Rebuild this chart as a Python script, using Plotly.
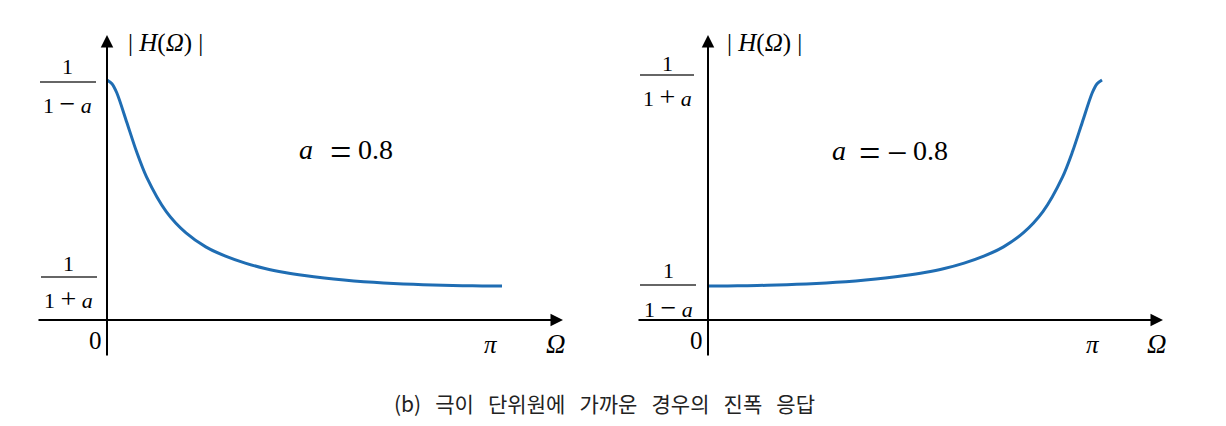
import plotly.graph_objects as go

# Omega in units of pi
omega = [0, 0.0125, 0.025, 0.05, 0.075, 0.10, 0.15, 0.20, 0.25, 0.30, 0.35, 0.40,
         0.45, 0.50, 0.55, 0.60, 0.65, 0.70, 0.75, 0.80, 0.85, 0.90, 0.95, 1.0]
# |H(Omega)| (a = 0.8)
mag_pos = [5.0, 4.92, 4.72, 4.09, 3.45, 2.91, 2.16, 1.70, 1.40, 1.20, 1.05, 0.934,
           0.848, 0.781, 0.727, 0.684, 0.650, 0.623, 0.601, 0.584, 0.571, 0.562, 0.557, 0.556]
# right panel (a = -0.8): its own omega samples and values
omega_neg = [0, 0.05, 0.10, 0.15, 0.20, 0.25, 0.30, 0.35, 0.40, 0.45, 0.50, 0.55, 0.60,
             0.65, 0.70, 0.75, 0.80, 0.85, 0.90, 0.925, 0.95, 0.975, 0.9875, 1.0]
mag_neg = [0.556, 0.557, 0.562, 0.571, 0.584, 0.601, 0.623, 0.650, 0.684, 0.727, 0.781, 0.848,
           0.934, 1.05, 1.20, 1.40, 1.70, 2.16, 2.91, 3.45, 4.09, 4.72, 4.92, 5.0]

caption_words = ["(b)", "극이", "단위원에", "가까운", "경우의", "진폭", "응답"]

W, H = 1226, 426
BLUE = "#1f6db3"
SERIF = '"Liberation Serif", "Times New Roman", "DejaVu Serif", serif'
KFONT = '"Noto Sans CJK KR", sans-serif'

fig = go.Figure()
fig.add_trace(go.Scatter(x=omega, y=mag_pos, mode="lines", xaxis="x", yaxis="y",
                         line=dict(color=BLUE, width=3, shape="spline", smoothing=0.8),
                         hoverinfo="skip", showlegend=False))
fig.add_trace(go.Scatter(x=omega_neg, y=mag_neg, mode="lines", xaxis="x2", yaxis="y2",
                         line=dict(color=BLUE, width=3, shape="spline", smoothing=0.8),
                         hoverinfo="skip", showlegend=False))

ydom = [1 - 357 / H, 1 - 35 / H]
yrng = [-0.976, 5.971]
x_axis_y = -0.178
ax_common = dict(showgrid=False, zeroline=False, showticklabels=False, ticks="", showline=False, fixedrange=True)
fig.update_layout(
    width=W, height=H, margin=dict(l=0, r=0, t=0, b=0),
    paper_bgcolor="white", plot_bgcolor="rgba(0,0,0,0)",
    xaxis=dict(domain=[37 / W, 563 / W], range=[-0.1772, 1.1544], **ax_common),
    yaxis=dict(domain=ydom, range=yrng, **ax_common),
    xaxis2=dict(domain=[637 / W, 1163 / W], range=[-0.1802, 1.1548], anchor="y2", **ax_common),
    yaxis2=dict(domain=ydom, range=yrng, anchor="x2", **ax_common),
    showlegend=False,
    font=dict(family=SERIF),
)

annotations = []
shapes = []

def arrow(xr, yr, x, y, axx, ayy):
    annotations.append(dict(xref=xr, yref=yr, axref=xr, ayref=yr, x=x, y=y, ax=axx, ay=ayy,
                            text="", showarrow=True, arrowhead=2, arrowsize=1.25,
                            arrowwidth=2, arrowcolor="#000", standoff=0, startstandoff=0))

# axes with arrows
arrow("x", "y", 1.1544, x_axis_y, -0.1772, x_axis_y)
arrow("x", "y", 0, 5.971, 0, -0.976)
arrow("x2", "y2", 1.1548, x_axis_y, -0.1802, x_axis_y)
arrow("x2", "y2", 0, 5.971, 0, -0.976)

def txt(px, py, s, size=22, family=SERIF, color="#000", anchor="center"):
    annotations.append(dict(xref="paper", yref="paper", x=px / W, y=1 - py / H, text=s,
                            showarrow=False, xanchor=anchor, yanchor="middle",
                            font=dict(family=family, size=size, color=color)))

def big(ch, size=28):
    return "<span style='font-size:%dpx'>%s</span>" % (size, ch)

def frac(cx, bar_y, x0, x1, num_y, den_y, op):
    txt(cx, num_y, "1", size=22)
    txt(cx, den_y, "1 " + big(op, 28) + " <i>a</i>", size=22)
    shapes.append(dict(type="line", xref="paper", yref="paper",
                       x0=x0 / W, x1=x1 / W, y0=1 - bar_y / H, y1=1 - bar_y / H,
                       line=dict(color="#333", width=1.5)))

HLAB = "| <i>H</i>(<i>Ω</i>) |"
# left panel labels
txt(165, 43, HLAB, size=25)
frac(67, 82, 40, 96, 67, 104, "−")
frac(68, 277, 41, 97, 263, 298, "+")
txt(96, 340, "0", size=25)
txt(491, 344, "<i>π</i>", size=25)
txt(556, 344, "<i>Ω</i>", size=27)
txt(306, 149, "<i>a</i>", size=28)
txt(340, 151.5, "=", size=38)
txt(356, 149, "0.8", size=28, anchor="left")

# right panel labels
txt(764, 43, HLAB, size=25)
frac(667, 75, 640, 694, 63, 96, "+")
frac(668, 285, 640, 696, 270, 307, "−")
txt(697, 340, "0", size=25)
txt(1093, 344, "<i>π</i>", size=25)
txt(1157, 344, "<i>Ω</i>", size=27)
txt(839, 150, "<i>a</i>", size=28)
txt(869, 152.5, "=", size=38)
txt(897, 152.5, "−", size=36)
txt(911, 150, "0.8", size=28, anchor="left")

# caption (wide word gaps as in the reference)
gap = "\u00a0\u00a0 "
txt(604, 403, gap.join(caption_words), size=21, family=KFONT, color="#222")

fig.update_layout(annotations=annotations, shapes=shapes)
fig.write_html("out.html")
